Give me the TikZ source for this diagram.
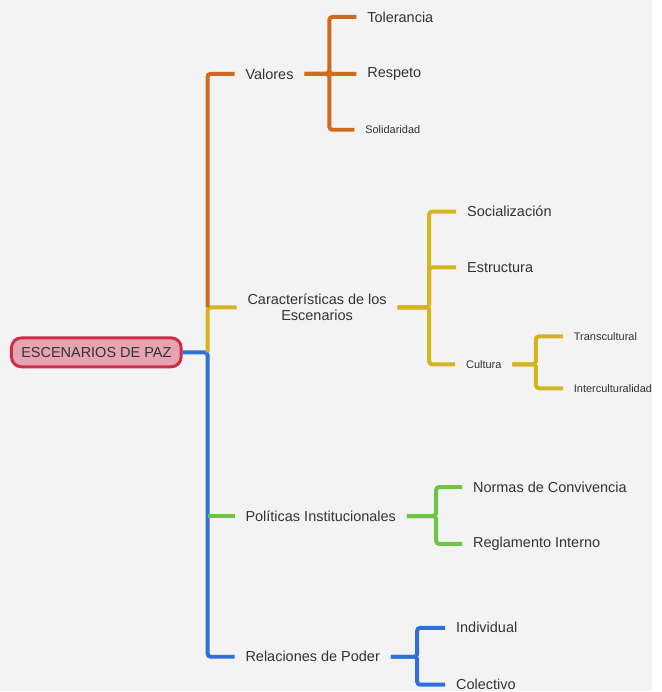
\documentclass[tikz,border=0pt]{standalone}
\usepackage{fontspec}
\setmainfont{Liberation Sans}
\definecolor{fondo}{HTML}{F3F3F3}
\definecolor{texto}{HTML}{333333}
\definecolor{naranja}{HTML}{CF6A1E}
\definecolor{amarillo}{HTML}{D6B420}
\definecolor{verde}{HTML}{6CC644}
\definecolor{azul}{HTML}{2F6FD6}
\definecolor{rosa}{HTML}{E6A3B0}
\definecolor{rojo}{HTML}{CC2E4A}
\begin{document}
\begin{tikzpicture}[x=1pt,y=-1pt,line width=4pt,
        hoja/.style={anchor=west,inner xsep=9pt,inner ysep=2pt,text=texto,font=\fontsize{14.5}{17}\selectfont},
        chica/.style={hoja,font=\fontsize{11}{13}\selectfont},
        rama/.style={draw=#1,rounded corners=3pt}]
    \fill[fondo] (0,0) rectangle (653,692);

    \node (raiz) at (96.5,353)[draw=rojo,fill=rosa,line width=3pt,rounded corners=10pt,
        minimum width=170pt,minimum height=29pt,text=texto,font=\fontsize{14.5}{17}\selectfont]{ESCENARIOS DE PAZ};
    \coordinate (tronco) at (208,353);

    \node (valores) at (235,74)[hoja]{Valores};
    \node (carac) at (237,308)[hoja,align=center,font=\fontsize{14.5}{16}\selectfont]{Características de los\\Escenarios};
    \node (politicas) at (235,517)[hoja]{Políticas Institucionales};
    \node (poder) at (235,658)[hoja]{Relaciones de Poder};

    \node (tol) at (357,17)[hoja]{Tolerancia};
    \node (res) at (357,74)[hoja]{Respeto};
    \node (sol) at (355,130)[chica]{Solidaridad};

    \node (soc) at (457,212)[hoja]{Socialización};
    \node (est) at (457,268)[hoja]{Estructura};
    \node (cul) at (456,365)[chica]{Cultura};
    \node (trans) at (564,337)[chica]{Transcultural};
    \node (inter) at (564,389)[chica]{Interculturalidad};

    \node (normas) at (463,488)[hoja]{Normas de Convivencia};
    \node (regla) at (463,545)[hoja]{Reglamento Interno};

    \node (indiv) at (446,629)[hoja]{Individual};
    \node (colec) at (446,686)[hoja]{Colectivo};

    \coordinate (bv) at (330,74);
    \coordinate (bc) at (430,308);
    \coordinate (bcul) at (537,365);
    \coordinate (bp) at (437,517);
    \coordinate (br) at (418,658);

    \draw[rama=azul] (raiz.east) -- (tronco) |- (poder.west);
    \draw[rama=verde] (tronco |- politicas.west) -- (politicas.west);
    \draw[rama=amarillo] (tronco) |- (carac.west);
    \draw[rama=naranja] (tronco |- carac.west) |- (valores.west);

    \foreach \h in {tol,res,sol}{
        \draw[rama=naranja] (valores.east) -- (bv) |- (\h.west);
    }
    \foreach \h in {soc,est,cul}{
        \draw[rama=amarillo] (carac.east) -- (bc) |- (\h.west);
    }
    \foreach \h in {trans,inter}{
        \draw[rama=amarillo] (cul.east) -- (bcul) |- (\h.west);
    }
    \foreach \h in {normas,regla}{
        \draw[rama=verde] (politicas.east) -- (bp) |- (\h.west);
    }
    \foreach \h in {indiv,colec}{
        \draw[rama=azul] (poder.east) -- (br) |- (\h.west);
    }
\end{tikzpicture}
\end{document}
